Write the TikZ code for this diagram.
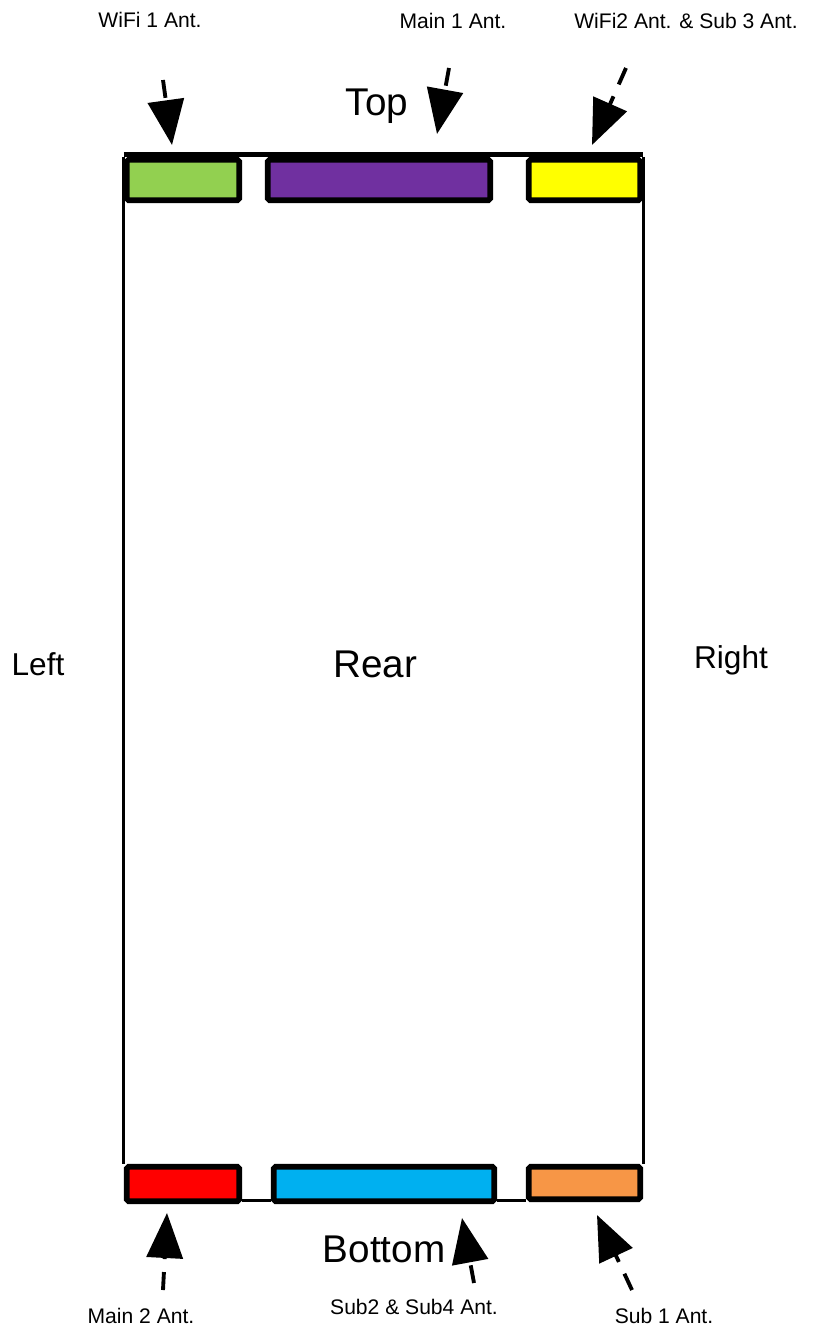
\documentclass[tikz,border=0pt]{standalone}
\usepackage{fontspec}
\setmainfont{Liberation Sans}
\usetikzlibrary{positioning,arrows.meta}

\definecolor{antgreen}{HTML}{92D050}
\definecolor{antpurple}{HTML}{7030A0}
\definecolor{antyellow}{HTML}{FFFF00}
\definecolor{antred}{HTML}{FF0000}
\definecolor{antblue}{HTML}{00B0F0}
\definecolor{antorange}{HTML}{F79646}

\tikzset{
  antblock/.style={draw=black, line width=3.2pt, rounded corners=1pt, inner sep=0pt},
  antarrow/.style={line width=2.2pt, dash pattern=on 0.36cm off 0.26cm,
    -{Triangle[length=0.9cm,width=0.72cm]}},
  antlabel/.style={font=\fontsize{12}{14}\selectfont},
  sidelabel/.style={font=\fontsize{18}{21}\selectfont},
  biglabel/.style={font=\fontsize{22}{26}\selectfont}
}

\begin{document}
\begin{tikzpicture}[x=0.02cm,y=-0.02cm]
  \useasboundingbox (0,0) rectangle (817,1332);

  \node[antblock, fill=antgreen, minimum width=2.25cm, minimum height=0.81cm] (wifione) at (183,180) {};
  \node[antblock, fill=antpurple, minimum width=4.45cm, minimum height=0.81cm] (mainone) at (379,180) {};
  \node[antblock, fill=antyellow, minimum width=2.23cm, minimum height=0.81cm] (wifitwo) at (584.5,180) {};

  \node[antblock, fill=antred, minimum width=2.25cm, minimum height=0.69cm] (maintwo) at (183,1184) {};
  \node[antblock, fill=antblue, minimum width=4.41cm, minimum height=0.69cm] (subtwo) at (384,1184) {};
  \node[antblock, fill=antorange, minimum width=2.23cm, minimum height=0.65cm] (subone) at (584.5,1183) {};

  \draw[line width=3.2pt] ([yshift=0.05cm]wifione.north west) -- ([yshift=0.05cm]wifitwo.north east);
  \draw[line width=1.7pt] (wifione.north west) -- (maintwo.north west);
  \draw[line width=1.7pt] (wifitwo.north east) -- (subone.north east);
  \draw[line width=1.7pt] ([yshift=-0.32cm]maintwo.east) -- ([yshift=-0.32cm]subtwo.west);
  \draw[line width=1.7pt] ([yshift=-0.32cm]subtwo.east) -- ([yshift=-0.32cm]subtwo.east -| subone.west);

  \node[antlabel] (wifionelbl) at (150,20) {WiFi 1 Ant.};
  \node[antlabel] (mainonelbl) at (453,21) {Main 1 Ant.};
  \node[antlabel] (wifitwolbl) at (686,21) {WiFi2 Ant. \& Sub 3 Ant.};
  \node[antlabel] (maintwolbl) at (141,1316) {Main 2 Ant.};
  \node[antlabel] (subtwolbl) at (414,1307) {Sub2 \& Sub4 Ant.};
  \node[antlabel] (subonelbl) at (664,1316) {Sub 1 Ant.};

  \node[biglabel] (toplbl) at (377,106) {Top};
  \node[biglabel] (rearlbl) at (375,664) {Rear};
  \node[biglabel] (bottomlbl) at (384,1249) {Bottom};
  \node[sidelabel] (leftlbl) at (38,664) {Left};
  \node[sidelabel] (rightlbl) at (731,660) {Right};

  \coordinate (wifionetail) at (163,80);
  \coordinate (wifionetip) at (172,145);
  \coordinate (mainonetail) at (449,68);
  \coordinate (mainonetip) at (437,134);
  \coordinate (wifitwotail) at (626,68);
  \coordinate (wifitwotip) at (592,145);
  \coordinate (maintwotail) at (163,1290);
  \coordinate (maintwotip) at (167,1213);
  \coordinate (subtwotail) at (474,1283);
  \coordinate (subtwotip) at (462,1218);
  \coordinate (subonetail) at (632,1290);
  \coordinate (subonetip) at (597,1215);

  \draw[antarrow] (wifionetail) -- (wifionetip);
  \draw[antarrow] (mainonetail) -- (mainonetip);
  \draw[antarrow] (wifitwotail) -- (wifitwotip);
  \draw[antarrow] (maintwotail) -- (maintwotip);
  \draw[antarrow] (subtwotail) -- (subtwotip);
  \draw[antarrow] (subonetail) -- (subonetip);
\end{tikzpicture}
\end{document}
